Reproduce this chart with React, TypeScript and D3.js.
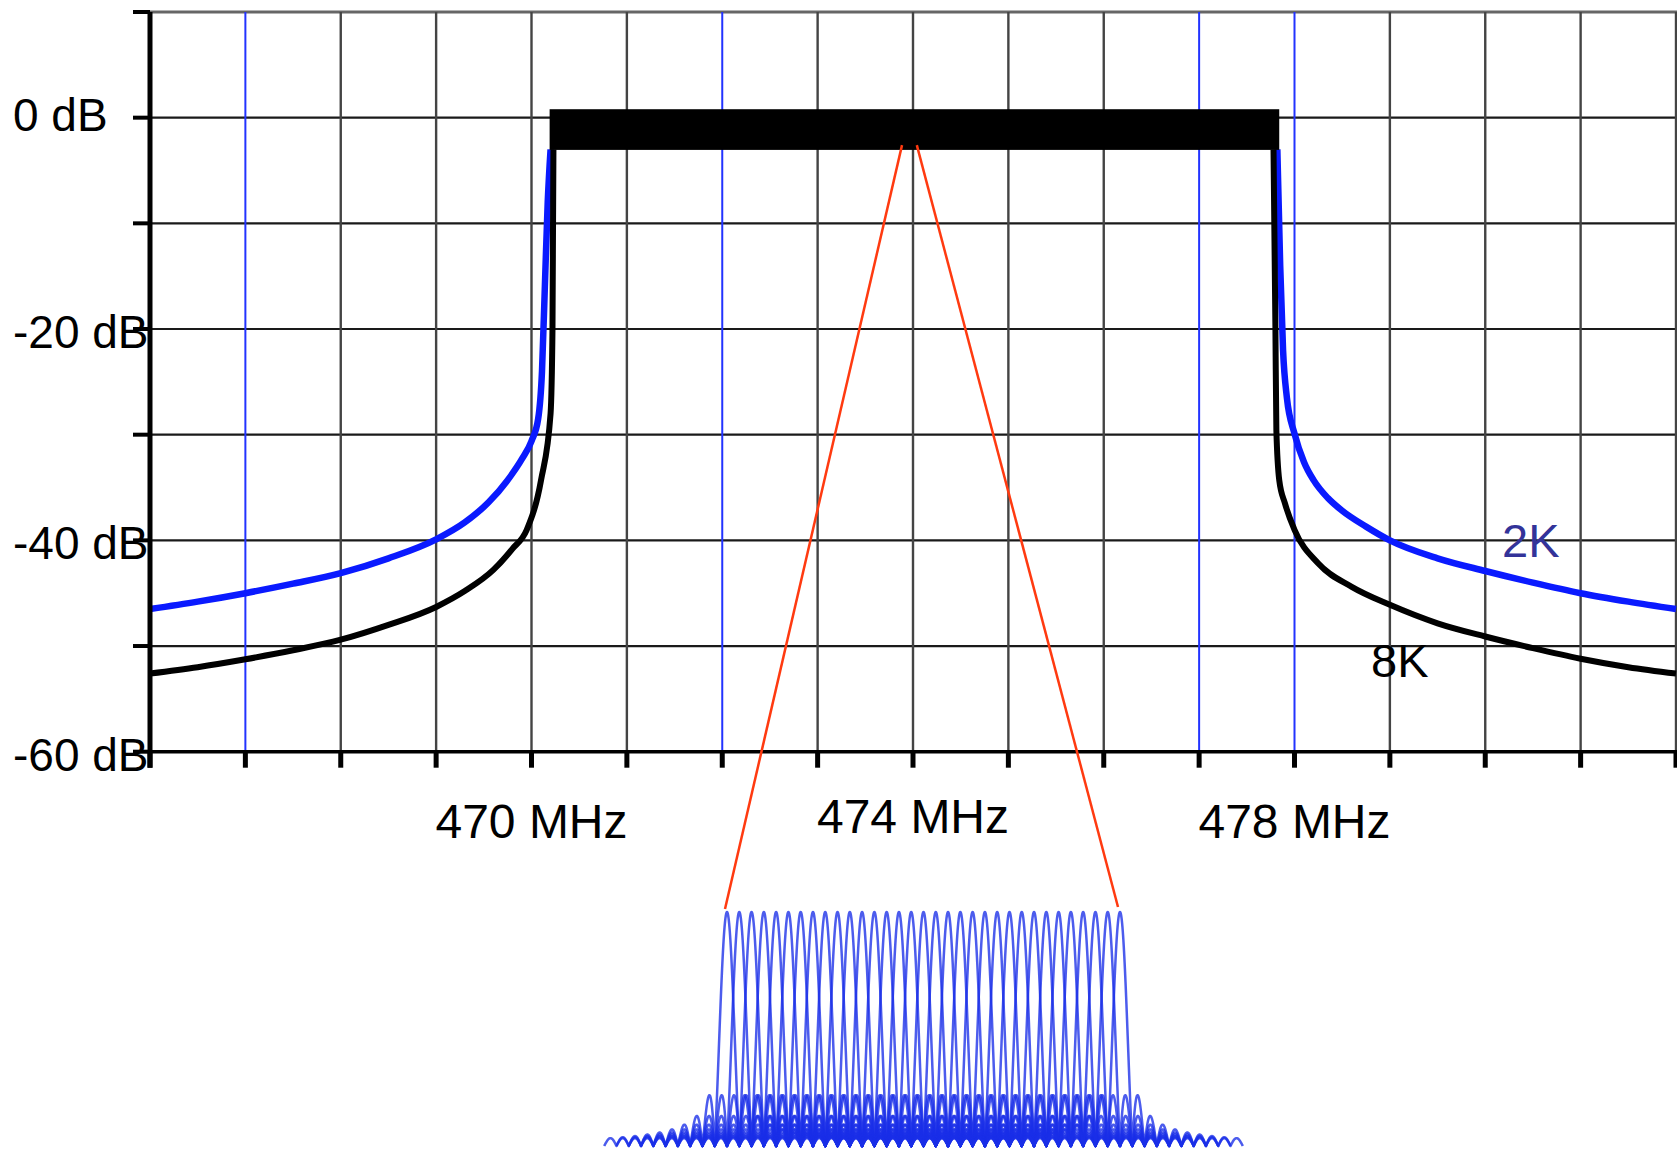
import React from 'react';
import * as d3 from 'd3';

// ---------- data ----------
const freqTicks = [466, 467, 468, 469, 470, 471, 472, 473, 474, 475, 476, 477, 478, 479, 480, 481, 482];
const blueGridFreqs = [467, 472, 477, 478];
const dbTicks = [10, 0, -10, -20, -30, -40, -50, -60];
const dbLabels = [0, -20, -40, -60];
const freqLabels = [470, 474, 478];

// 2K spectrum (blue), left and right skirts (MHz, dB)
const k2LeftF = [466.0, 466.5, 467.0, 467.5, 468.0, 468.5, 469.0, 469.3, 469.55, 469.75, 469.9, 470.0, 470.07, 470.11, 470.14, 470.17, 470.2];
const k2LeftDb = [-46.5, -45.8, -45.0, -44.1, -43.1, -41.7, -39.9, -38.3, -36.4, -34.3, -32.3, -30.6, -28.5, -24.0, -16.0, -8.0, -3.0];
const k2RightF = [477.82, 477.85, 477.88, 477.92, 478.0, 478.1, 478.2, 478.35, 478.5, 478.75, 479.0, 479.5, 480.0, 480.5, 481.0, 481.5, 482.0];
const k2RightDb = [-3.0, -14.0, -22.0, -26.5, -29.9, -32.6, -34.3, -36.0, -37.2, -38.7, -40.0, -41.7, -42.9, -44.0, -45.0, -45.8, -46.5];

// 8K spectrum (black)
const k8LeftF = [466.0, 466.5, 467.0, 467.5, 468.0, 468.5, 469.0, 469.3, 469.6, 469.8, 469.95, 470.1, 470.2, 470.22, 470.23];
const k8LeftDb = [-52.6, -52.0, -51.25, -50.4, -49.4, -48.0, -46.3, -44.8, -42.8, -40.8, -39.0, -34.3, -28.0, -20.0, -3.0];
const k8RightF = [477.78, 477.8, 477.81, 477.84, 477.9, 478.0, 478.25, 478.6, 479.0, 479.5, 480.0, 480.5, 481.0, 481.5, 482.0];
const k8RightDb = [-3.0, -20.0, -29.6, -34.3, -36.5, -39.0, -42.2, -44.4, -46.1, -47.85, -49.1, -50.2, -51.2, -52.0, -52.6];

// in-band noisy plateau
const bandF = [470.19, 477.84];
const bandDb = [0.8, -3.05];

// zoom marker on the plateau
const zoomF = [473.885, 474.04];
const zoomDb = -2.6;

// inset: OFDM sub-carriers (index) shown as sinc spectra
const carriers = [-16, -15, -14, -13, -12, -11, -10, -9, -8, -7, -6, -5, -4, -3, -2, -1, 0, 1, 2, 3, 4, 5, 6, 7, 8, 9, 10, 11, 12, 13, 14, 15, 16];
const sincSpan = 10;

// ---------- layout ----------
const W = 1677;
const H = 1156;
const x = d3.scaleLinear().domain([466, 482]).range([150, 1676]);
const y = d3.scaleLinear().domain([-60, 10]).range([751.7, 12]);
const ix = d3.scaleLinear().domain([-16, 16]).range([727, 1120]);
const iy = d3.scaleLinear().domain([0, 1]).range([1146, 912]);

const FONT = '"Liberation Sans", Arial, Helvetica, sans-serif';

function lineFrom(fs: number[], ds: number[]) {
  const gen = d3.line<number>()
    .x((_, i) => x(fs[i]))
    .y((d) => y(d))
    .curve(d3.curveMonotoneX);
  return gen(ds) || '';
}

function sincPath(c: number) {
  const pts: [number, number][] = [];
  const n = 800;
  for (let i = 0; i <= n; i++) {
    const t = -sincSpan + (2 * sincSpan * i) / n;
    const v = t === 0 ? 1 : Math.abs(Math.sin(Math.PI * t) / (Math.PI * t));
    pts.push([ix(c + t), iy(v)]);
  }
  return d3.line()(pts) || '';
}

export default function App() {
  const yTop = y(10);
  const yBot = y(-60);
  return (
    <svg width={W} height={H} style={{ position: 'absolute', left: 0, top: 0, background: '#fff' }}>
      <rect x={0} y={0} width={W} height={H} fill="#fff" />
      {/* horizontal grid */}
      {dbTicks.filter((d) => d !== -60).map((d) => (
        <line key={'h' + d} x1={x(466)} x2={W} y1={y(d)} y2={y(d)}
          stroke={d === 10 ? '#666' : '#1a1a1a'} strokeWidth={d === 10 ? 3 : 2.2} />
      ))}
      {/* vertical grid */}
      {freqTicks.filter((f) => f !== 466).map((f) => (
        <line key={'v' + f} x1={x(f)} x2={x(f)} y1={yTop} y2={yBot}
          stroke={blueGridFreqs.includes(f) ? '#2233ff' : '#444'}
          strokeWidth={blueGridFreqs.includes(f) ? 2 : 2.4} />
      ))}
      {/* spectra */}
      <path d={lineFrom(k2LeftF, k2LeftDb)} fill="none" stroke="#0a1aff" strokeWidth={6.5} strokeLinejoin="round" />
      <path d={lineFrom(k2RightF, k2RightDb)} fill="none" stroke="#0a1aff" strokeWidth={6.5} strokeLinejoin="round" />
      <path d={lineFrom(k8LeftF, k8LeftDb)} fill="none" stroke="#000" strokeWidth={6} strokeLinejoin="round" />
      <path d={lineFrom(k8RightF, k8RightDb)} fill="none" stroke="#000" strokeWidth={6} strokeLinejoin="round" />
      {/* plateau */}
      <rect x={x(bandF[0])} y={y(bandDb[0])} width={x(bandF[1]) - x(bandF[0])} height={y(bandDb[1]) - y(bandDb[0])} fill="#000" />
      {/* axes */}
      <line x1={x(466)} x2={x(466)} y1={yTop} y2={yBot + 16} stroke="#000" strokeWidth={5} />
      <line x1={x(466)} x2={W} y1={yBot} y2={yBot} stroke="#000" strokeWidth={3.5} />
      {dbTicks.map((d) => (
        <line key={'yt' + d} x1={x(466) - 17} x2={x(466)} y1={y(d)} y2={y(d)} stroke="#000" strokeWidth={4} />
      ))}
      {freqTicks.map((f) => (
        <line key={'xt' + f} x1={x(f)} x2={x(f)} y1={yBot} y2={yBot + 16} stroke="#000" strokeWidth={5} />
      ))}
      {/* labels */}
      {dbLabels.map((d) => (
        <text key={'yl' + d} x={13} y={y(d) + (d === 0 ? 13 : 19)} fontFamily={FONT} fontSize={46} fill="#000">
          {d + ' dB'}
        </text>
      ))}
      {freqLabels.map((f) => (
        <text key={'xl' + f} x={x(f)} y={f === 474 ? 833 : 838} textAnchor="middle" fontFamily={FONT} fontSize={48} fill="#000">
          {f + ' MHz'}
        </text>
      ))}
      <text x={1502} y={557} fontFamily={FONT} fontSize={47} fill="#333399">2K</text>
      <text x={1371} y={677} fontFamily={FONT} fontSize={47} fill="#000">8K</text>
      {/* zoom lines */}
      <line x1={x(zoomF[0])} y1={y(zoomDb)} x2={ix(carriers[0]) - 2} y2={iy(1) - 3} stroke="#ff3a10" strokeWidth={2.5} />
      <line x1={x(zoomF[1])} y1={y(zoomDb)} x2={ix(carriers[carriers.length - 1]) - 2} y2={iy(1) - 5} stroke="#ff3a10" strokeWidth={2.5} />
      {/* inset */}
      <g fill="none" stroke="#1a2ee8" strokeWidth={2.5} strokeOpacity={0.78} strokeLinejoin="round">
        {carriers.map((c) => (
          <path key={'c' + c} d={sincPath(c)} />
        ))}
      </g>
    </svg>
  );
}
